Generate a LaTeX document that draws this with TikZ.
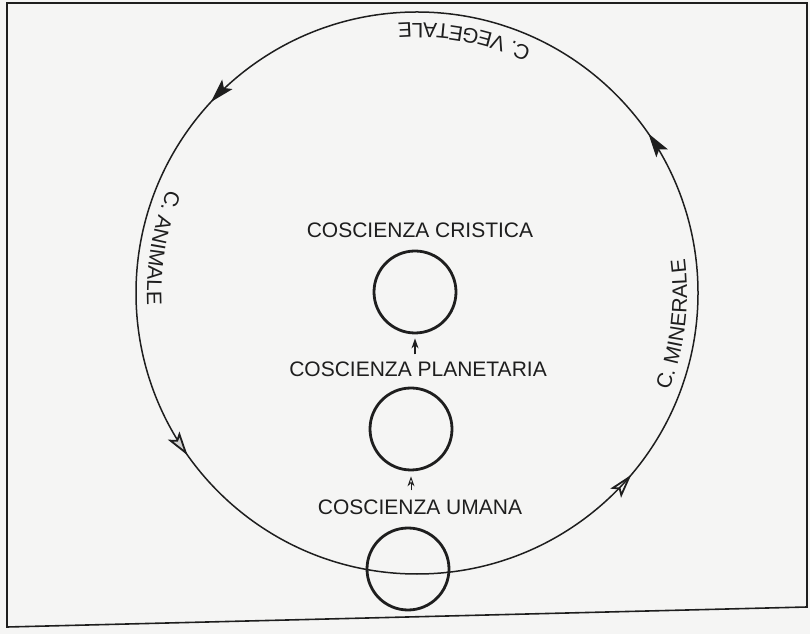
\documentclass[tikz,border=0pt]{standalone}
\usepackage{fontspec}
\setsansfont{Liberation Sans}
\usetikzlibrary{positioning,arrows.meta,decorations.markings,decorations.text}
\newcommand{\cyclefont}{\sffamily\fontsize{21}{25}\selectfont}
\definecolor{paper}{RGB}{245,245,244}
\definecolor{ink}{RGB}{30,30,30}
\tikzset{
    ring/.style={circle, draw=ink, line width=2.8pt, minimum size=82pt, inner sep=0pt},
    lbl/.style={font=\cyclefont, text=ink, inner sep=0pt},
    bigcycle/.style={draw=ink, line width=1.5pt, postaction={decorate},
        decoration={markings,
            mark=at position 0.096 with {\arrow{Stealth[length=24pt, width=14pt, inset=5pt]}},
            mark=at position 0.381 with {\arrow{Stealth[length=24pt, width=14pt, inset=5pt]}},
            mark=at position 0.598 with {\arrow{Stealth[open, length=24pt, width=14pt, inset=5pt, line width=1.8pt, fill=paper!70!gray]}},
            mark=at position 0.888 with {\arrow{Stealth[open, length=24pt, width=14pt, inset=5pt, line width=1.8pt]}}}},
    cyclelabel/.style={decorate, decoration={text along path, text align=center,
        text={|\cyclefont\color{ink}|#1}}},
    upfull/.style={draw=ink, line width=1.3pt, -{Stealth[length=10pt, width=7pt]},
        shorten <=7pt, shorten >=4pt},
    upopen/.style={draw=ink, line width=0.9pt, -{Stealth[open, length=10pt, width=7pt]},
        shorten <=9pt, shorten >=5pt}
}
\begin{document}
\begin{tikzpicture}[x=1pt, y=1pt]
    \fill[paper] (0,0) rectangle (810,634);
    \useasboundingbox (0,0) rectangle (810,634);
    \draw[ink, line width=1.6pt] (7,7) -- (7,631) -- (807,631) -- (807,27) -- cycle;

    \coordinate (centre) at (417,341);
    \draw[bigcycle] (centre) circle[radius=281];
    \path[cyclelabel={C. VEGETALE}, shift={(centre)}] (47:270) arc[start angle=47, end angle=112, radius=270];
    \path[cyclelabel={C. ANIMALE}, shift={(centre)}] (145:270) arc[start angle=145, end angle=195, radius=270];
    \path[cyclelabel={C. MINERALE}, shift={(centre)}] (-32:270) arc[start angle=-32, end angle=18, radius=270];

    \node[ring] (cristica) at (415,342) {};
    \node[ring] (planetaria) at (411,205) {};
    \node[ring] (umana) at (408,65) {};
    \node[lbl, above=12pt of cristica, xshift=5pt] (tcristica) {COSCIENZA CRISTICA};
    \node[lbl, above=10pt of planetaria, xshift=7pt] (tplanetaria) {COSCIENZA PLANETARIA};
    \node[lbl, above=12pt of umana, xshift=12pt] (tumana) {COSCIENZA UMANA};

    \draw[upfull] (tplanetaria.north -| cristica.south) -- (cristica.south);
    \draw[upopen] (tumana.north -| planetaria.south) -- (planetaria.south);
\end{tikzpicture}
\end{document}
